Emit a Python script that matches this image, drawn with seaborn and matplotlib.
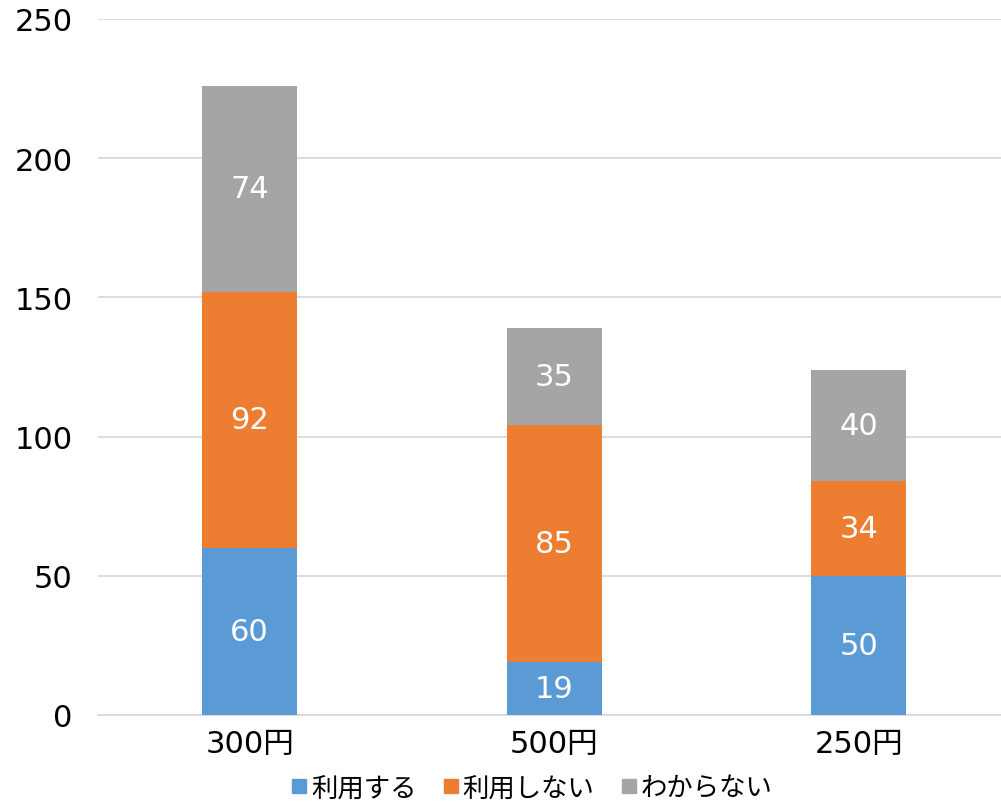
import matplotlib
matplotlib.use("Agg")
import matplotlib.pyplot as plt
import seaborn as sns
import pandas as pd
import numpy as np
from matplotlib.lines import Line2D

categories = ["300円", "500円", "250円"]
use = [60, 19, 50]
not_use = [92, 85, 34]
unknown = [74, 35, 40]
series_names = ["利用する", "利用しない", "わからない"]
colors = ["#5B9BD5", "#ED7D31", "#A5A5A5"]
yticks = [0, 50, 100, 150, 200, 250]

sns.set_theme(style="white")
plt.rcParams['font.family'] = ['DejaVu Sans', 'Noto Sans CJK JP']
plt.rcParams['text.color'] = 'black'
plt.rcParams['xtick.color'] = 'black'
plt.rcParams['ytick.color'] = 'black'

fig = plt.figure(figsize=(10.01, 8.03), dpi=100)
W, H = 1001, 803
left, right = 97.5, 1011
top, bottom = 20, 716
ax = fig.add_axes([left / W, 1 - bottom / H, (right - left) / W, (bottom - top) / H])

c1 = np.array(use)
c2 = c1 + np.array(not_use)
c3 = c2 + np.array(unknown)
stack = [c3, c2, c1]
stack_cols = [colors[2], colors[1], colors[0]]
for vals, col in zip(stack, stack_cols):
    df = pd.DataFrame({"cat": categories, "v": vals})
    sns.barplot(data=df, x="cat", y="v", color=col, width=0.312, ax=ax,
                saturation=1, linewidth=0, zorder=3)

ax.set_xlim(-0.5, 2.5)
ax.set_ylim(0, 250)
ax.set_yticks(yticks)
ax.set_yticklabels([str(t) for t in yticks], fontsize=22, color='black')
ax.tick_params(axis='x', labelsize=22, length=0, pad=10, labelcolor='black')
ax.tick_params(axis='y', length=0, pad=18, labelcolor='black')
ax.set_xlabel("")
ax.set_ylabel("")
ax.yaxis.grid(True, color="#D9D9D9", linewidth=1.3, zorder=0)
ax.set_axisbelow(True)
for s in ["top", "right", "left"]:
    ax.spines[s].set_visible(False)
ax.spines["bottom"].set_color("#D9D9D9")
ax.spines["bottom"].set_linewidth(1.3)

bases = [np.zeros(3), c1, c2]
for vals, base in zip([use, not_use, unknown], bases):
    for i, v in enumerate(vals):
        ax.text(i, base[i] + v / 2, str(v), ha='center', va='center',
                color='white', fontsize=22, zorder=5)

handles = [Line2D([0], [0], marker='s', color='none', markerfacecolor=c,
                  markeredgecolor=c, markersize=9.5) for c in colors]
leg = fig.legend(handles, series_names, loc='center', bbox_to_anchor=(532 / W, 1 - 789 / H),
                 ncol=3, frameon=False, handlelength=0.6, handletextpad=0.15,
                 columnspacing=1.0, borderpad=0, borderaxespad=0,
                 prop={'family': ['Noto Sans CJK JP'], 'size': 19})
for t in leg.get_texts():
    t.set_color('black')

fig.savefig("out.png", dpi=100)
